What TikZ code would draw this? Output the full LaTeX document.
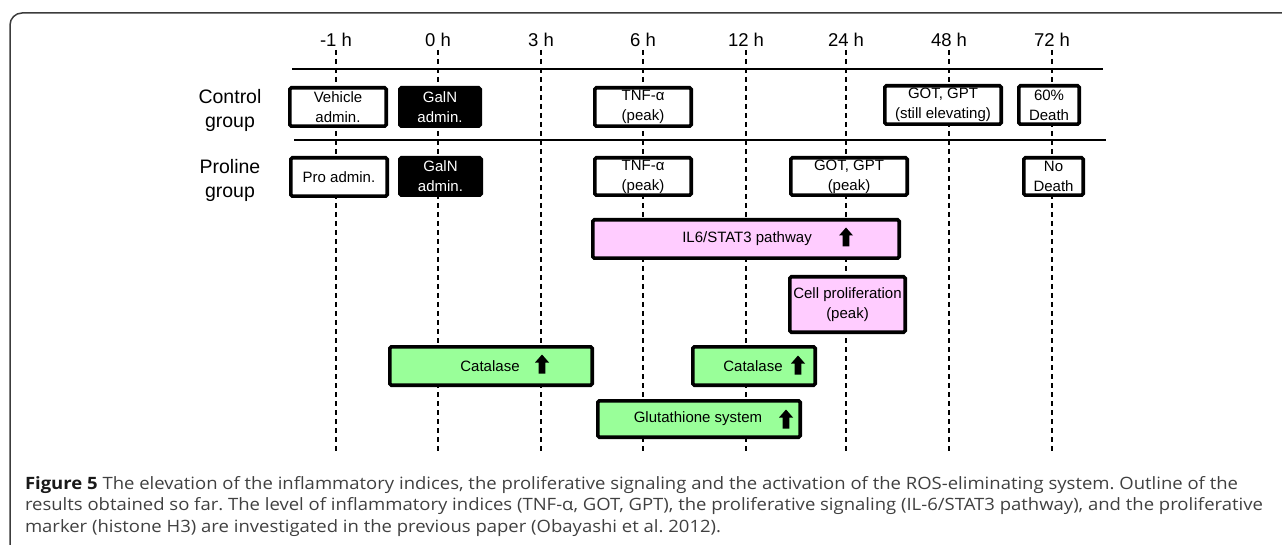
\documentclass[tikz,border=0pt]{standalone}
\usepackage{fontspec}
\setmainfont{Liberation Sans}
\newfontfamily\capfont{Open Sans}
\newlength\capwidth
\definecolor{pinkfill}{RGB}{255,204,255}
\definecolor{greenfill}{RGB}{153,255,153}
\definecolor{framegray}{RGB}{60,60,60}
\definecolor{captext}{RGB}{64,64,64}

% box from outer corners (x1,y1)-(x2,y2), border width taken into account
\newcommand\evnode[7]{%
  \node[#2, minimum width={(#5-#3-3.6)*1pt}, minimum height={(#6-#4-3.6)*1pt}]
    (#1) at ({(#3+#5)/2},{(#4+#6)/2}) {#7};}

\begin{document}
\frenchspacing
\settowidth{\capwidth}{\capfont\fontsize{17}{21}\selectfont\textbf{Figure 5} The elevation of the inflammatory indices, the proliferative signaling and the activation of the ROS-eliminating system. Outline of the}%
\begin{tikzpicture}[x=1pt,y=-1pt,
  every node/.style={inner sep=0pt, outer sep=0pt},
  timelbl/.style={font=\fontsize{18.5}{20}\selectfont, anchor=base},
  grplbl/.style={font=\fontsize{19.5}{24}\selectfont, align=center},
  gridline/.style={line width=1.3pt, dash pattern=on 5pt off 4pt},
  rulebar/.style={line width=1.3pt},
  evbox/.style={draw, line width=3.6pt, fill=white, rounded corners=1.5pt,
    align=center, font=\fontsize{15}{20}\selectfont},
  darkbox/.style={evbox, fill=black, text=white},
  pinkbox/.style={evbox, fill=pinkfill},
  greenbox/.style={evbox, fill=greenfill},
  boxtext/.style={font=\fontsize{15}{20}\selectfont, align=center},
  captxt/.style={anchor=base west, text=captext},
  uparr/.pic={\fill[black] (0,-9.5) -- (7,-1.5) -- (3.3,-1.5) -- (3.3,9.5)
     -- (-3.3,9.5) -- (-3.3,-1.5) -- (-7,-1.5) -- cycle;}
]
\useasboundingbox (0,0) rectangle (1282,545);

% outer frame
\draw[framegray, line width=1.5pt, rounded corners=12pt]
  (10,548) -- (10,13) -- (1286,13);

% time axis labels
\node[timelbl] (tm1) at (336,46.5) {-1 h};
\node[timelbl] (t0)  at (438,46.5) {0 h};
\node[timelbl] (t3)  at (541,46.5) {3 h};
\node[timelbl] (t6)  at (643,46.5) {6 h};
\node[timelbl] (t12) at (746,46.5) {12 h};
\node[timelbl] (t24) at (846,46.5) {24 h};
\node[timelbl] (t48) at (949,46.5) {48 h};
\node[timelbl] (t72) at (1052,46.5) {72 h};

% vertical dashed time lines
\foreach \t/\xx in {tm1/336,t0/438,t3/541,t6/643,t12/746,t24/846,t48/949,t72/1052}{
  \coordinate (\t-top) at (\xx,50);
  \coordinate (\t-bot) at (\xx,452);
  \draw[gridline] (\t-top) -- (\t-bot);
}

% group separators
\coordinate (r1a) at (292,69);  \coordinate (r1b) at (1103,69);
\coordinate (r2a) at (294,140); \coordinate (r2b) at (1106,140);
\draw[rulebar] (r1a) -- (r1b);
\draw[rulebar] (r2a) -- (r2b);

% group labels
\node[grplbl] (cgrp) at (230,110.5) {Control\\group};
\node[grplbl] (pgrp) at (230,180) {Proline\\group};

% control group events
\evnode{veh}{evbox}{288}{86}{388}{128}{Vehicle\\admin.}
\evnode{galnc}{darkbox}{398}{86}{482}{128}{GalN\\admin.}
\evnode{tnfc}{evbox}{593}{86}{693}{128}{TNF-α\\(peak)}
\evnode{gotc}{evbox}{883}{84}{1003}{126}{GOT, GPT\\(still elevating)}
\evnode{deathc}{evbox}{1017}{84}{1081}{126}{60\%\\Death}

% proline group events
\evnode{pro}{evbox}{289}{156}{389}{198}{Pro admin.}
\evnode{galnp}{darkbox}{398}{156}{483}{197}{GalN\\admin.}
\evnode{tnfp}{evbox}{593}{156}{693}{197}{TNF-α\\(peak)}
\evnode{gotp}{evbox}{789}{156}{909}{197}{GOT, GPT\\(peak)}
\evnode{deathp}{evbox}{1022}{156}{1085}{197}{No\\Death}

% signalling and proliferation
\evnode{il6}{pinkbox}{591}{218}{901}{260}{}
\node[boxtext] (il6t) at (747,239) {IL6/STAT3 pathway};
\pic at (846,237) {uparr};
\evnode{cell}{pinkbox}{788}{275}{907}{334}{Cell proliferation\\(peak)}

% ROS-eliminating system
\evnode{cat1}{greenbox}{388}{345}{594}{387}{}
\node[boxtext] (cat1t) at (490,366) {Catalase};
\pic at (542,364) {uparr};
\evnode{cat2}{greenbox}{691}{345}{817}{387}{}
\node[boxtext] (cat2t) at (753,366) {Catalase};
\pic at (798,365) {uparr};
\evnode{glu}{greenbox}{596}{399}{802}{439}{}
\node[boxtext] (glut) at (698,419) {Glutathione system};
\pic at (786,419) {uparr};

% caption, stretched to the column width
\pgfmathsetmacro\capsx{1213/\capwidth}
\node[captxt] (cap1) at (25,489) {\scalebox{\capsx}[1]{\capfont\fontsize{17}{21}\selectfont\textbf{\color{black!90}Figure 5} The elevation of the inflammatory indices, the proliferative signaling and the activation of the ROS-eliminating system. Outline of the}};
\node[captxt] (cap2) at (25,510.5) {\scalebox{\capsx}[1]{\capfont\fontsize{17}{21}\selectfont results obtained so far. The level of inflammatory indices (TNF-α, GOT, GPT), the proliferative signaling (IL-6/STAT3 pathway), and the proliferative}};
\node[captxt] (cap3) at (25,532) {\scalebox{\capsx}[1]{\capfont\fontsize{17}{21}\selectfont marker (histone H3) are investigated in the previous paper (Obayashi et al. 2012).}};
\end{tikzpicture}
\end{document}
